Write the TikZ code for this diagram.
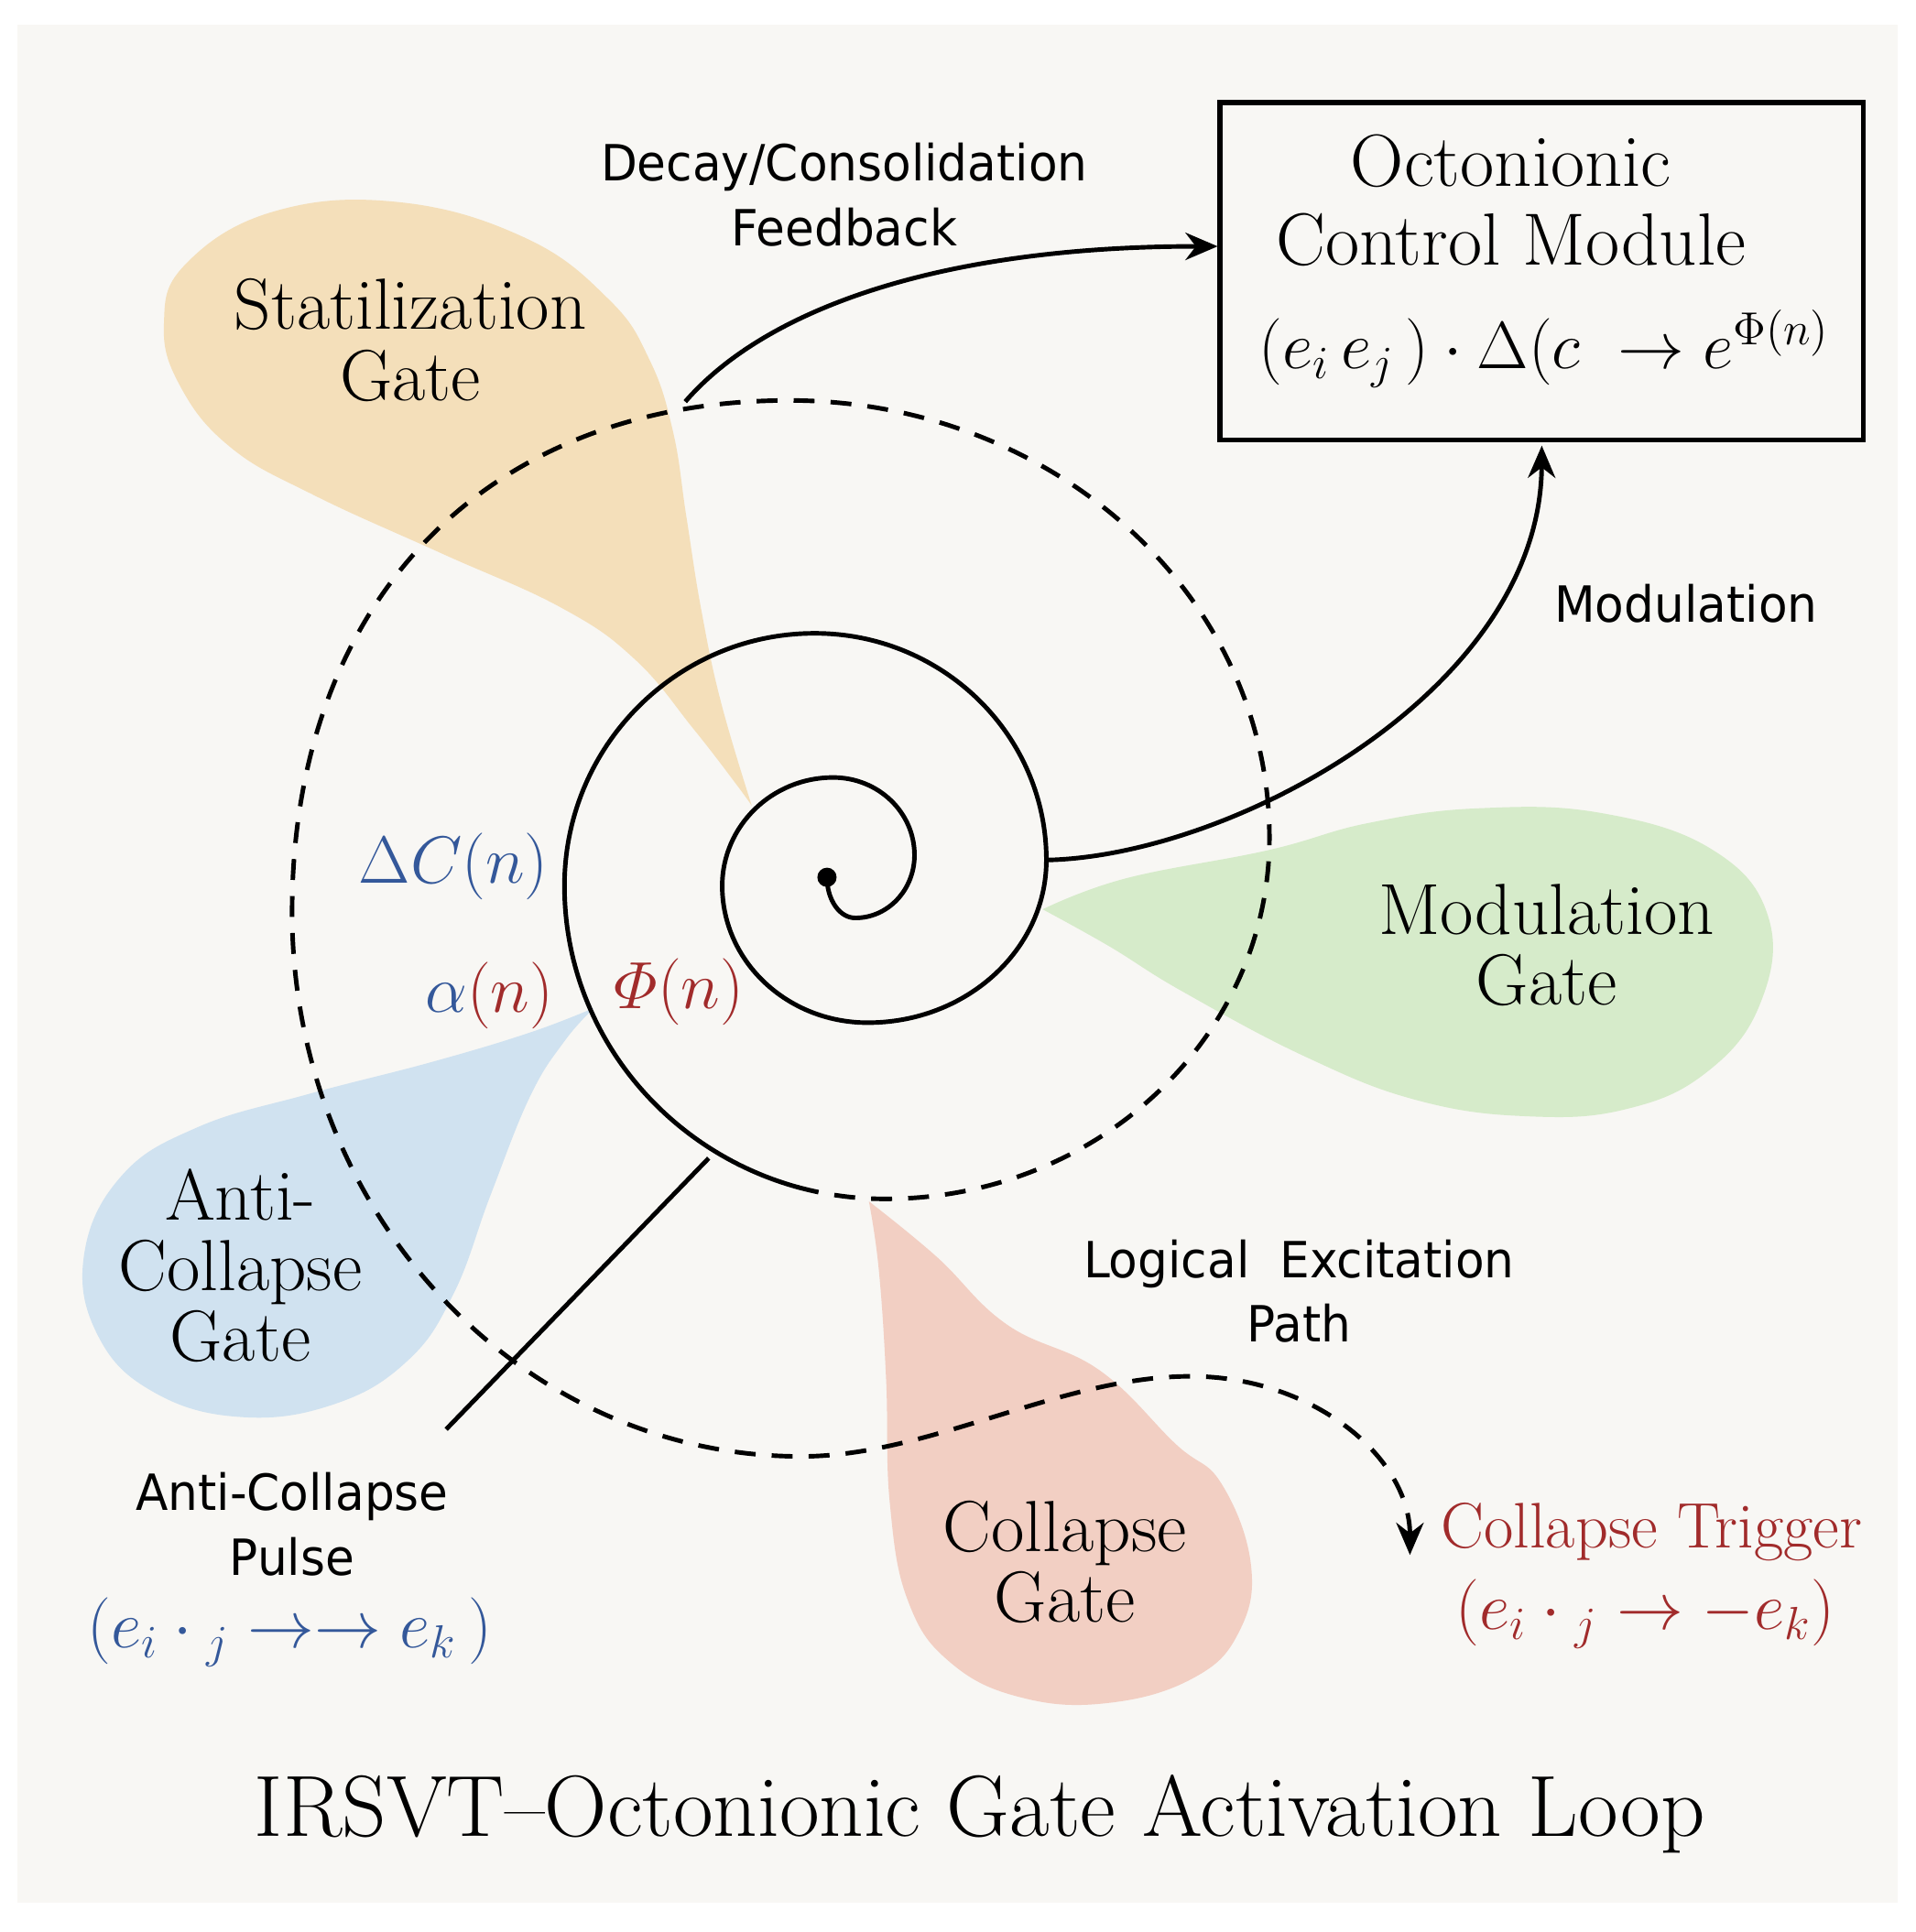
\documentclass[tikz,border=0pt]{standalone}
\usepackage{amsmath}
\usepackage{fontspec}
\newfontfamily\sidefont[FakeStretch=0.95]{DejaVu Sans}
\usetikzlibrary{arrows.meta,positioning}
\definecolor{PaperBg}{HTML}{F8F7F4}
\definecolor{StatFill}{HTML}{F4DFBA}
\definecolor{ModFill}{HTML}{D6EBCA}
\definecolor{AntiFill}{HTML}{D0E2F0}
\definecolor{ColFill}{HTML}{F2CFC3}
\definecolor{InkBlue}{HTML}{34589A}
\definecolor{InkRed}{HTML}{A12B2B}
\tikzset{
gatetext/.style={font=\fontsize{22.5}{22}\selectfont, align=center, inner sep=0pt},
sidetext/.style={font=\sidefont\fontsize{15.5}{20}\selectfont, align=center, inner sep=0pt},
mathtext/.style={font=\fontsize{21}{24}\selectfont, inner sep=0pt},
modbox/.style={draw=black, line width=1.6pt, fill=PaperBg, inner sep=0pt},
spiralline/.style={line width=1.4pt, line cap=round},
excite/.style={-{Stealth[length=10pt,width=8.5pt]}, line width=1.4pt, dash pattern=on 6.5pt off 5pt},
flow/.style={-{Stealth[length=10pt,width=8.5pt]}, line width=1.4pt},
pulseline/.style={line width=1.4pt}
}

\begin{document}
\begin{tikzpicture}[x=0.013456cm, y=-0.013456cm]
  \useasboundingbox (0,0) rectangle (1554,1568);
  \fill[white] (0,0) rectangle (1554,1568);
  \fill[PaperBg] (14,20) rectangle (1540,1544);

  \fill[StatFill] plot[smooth, tension=0.7] coordinates {(610,654) (597,636) (563,592) (515,535) (455,493) (358,449) (255,402) (187,363) (146,313) (133,263) (150,215) (221,172) (323,164) (426,193) (494,243) (527,292) (546,350) (557,420) (569,495) (585,570) (610,654)} -- cycle;
  \fill[ModFill] plot[smooth, tension=0.7] coordinates {(846,738) (913,713) (1029,690) (1110,668) (1200,656) (1300,660) (1390,690) (1435,745) (1428,815) (1385,870) (1320,900) (1240,906) (1150,893) (1060,858) (960,805) (900,768) (846,738)} -- cycle;
  \fill[AntiFill] plot[smooth, tension=0.7] coordinates {(482,818) (430,838) (350,862) (250,888) (160,915) (98,955) (68,1020) (80,1085) (125,1130) (195,1150) (270,1140) (330,1105) (368,1050) (398,970) (430,890) (458,845) (482,818)} -- cycle;
  \fill[ColFill] plot[smooth, tension=0.7] coordinates {(705,975) (760,1020) (817,1075) (892,1112) (954,1172) (991,1204) (1015,1270) (1005,1325) (968,1362) (900,1382) (830,1378) (772,1350) (737,1300) (722,1220) (719,1120) (713,1030) (705,975)} -- cycle;

  \node[modbox, minimum width=7.024cm, minimum height=3.687cm] (module) at (1251,220) {};
  \node[gatetext, font=\fontsize{23}{24.5}\selectfont] (modtitle) at (1226,163) {Octonionic\\Control Module};
  \node[mathtext] (modeq) at (1253,283) {$(e_i\,e_j\,)\cdot\Delta(c\;\rightarrow e^{\Phi(n)}$};

  \node[circle, fill=black, inner sep=0pt, minimum size=0.21cm] (core) at (671,712) {};
  \coordinate (sp-right) at (849,698);
  \coordinate (sp-cut) at (647.6,963.6);
  \draw[spiralline] (core.center) .. controls (671,730) and (681,745) .. (694,745)
    .. controls (720.5,745) and (742,722.2) .. (742,694)
    .. controls (742,659.2) and (712.5,631) .. (676,631)
    .. controls (626.3,631) and (586,670.4) .. (586,719)
    .. controls (586,780.3) and (638.8,830) .. (704,830)
    .. controls (784.1,830) and (849,770.9) .. (sp-right)
    .. controls (849,596.4) and (764.8,514) .. (661,514)
    .. controls (548.9,514) and (458,605.8) .. (458,719)
    .. controls (458,835.4) and (538.2,933.6) .. (sp-cut);

  \coordinate (trig-in) at (1144,1262);
  \draw[excite] (sp-cut) .. controls (670,969.7) and (693.6,973) .. (718,973)
    .. controls (890.3,973) and (1030,841.8) .. (1030,680)
    .. controls (1030,484) and (855.4,325) .. (640,325)
    .. controls (395,325) and (237,488) .. (237,740)
    .. controls (237,984.1) and (421.9,1182) .. (650,1182)
    .. controls (755,1182) and (860,1117) .. (966,1117)
    .. controls (1064.3,1117) and (1144,1181.9) .. (trig-in);

  \coordinate (fb-out) at (556,326);
  \coordinate (fb-in) at ([yshift=0.27cm]module.west);
  \draw[flow] (fb-out) .. controls (620,252) and (760,200) .. (fb-in);
  \draw[flow, shorten >=1pt] (sp-right) .. controls (1000,695) and (1250,560) .. (module.south);

  \coordinate (pulse-a) at (575,940);
  \coordinate (pulse-b) at (362,1160);
  \draw[pulseline] (pulse-a) -- (pulse-b);

  \node[gatetext] (statgate) at (333,276) {Statilization\\Gate};
  \node[gatetext] (modgate) at (1255,767) {Modulation\\Gate};
  \node[gatetext] (antigate) at (195,1027) {Anti-\\Collapse\\Gate};
  \node[gatetext] (colgate) at (864,1268) {Collapse\\Gate};

  \node[sidetext] (fblabel) at (685,158) {Decay/Consolidation\\Feedback};
  \node[sidetext] (modlabel) at (1368,490) {Modulation};
  \node[sidetext] (pathlabel) at (1054,1048) {Logical~ Excitation\\Path};
  \node[sidetext] (pulselabel) at (237,1237) {Anti-Collapse\\Pulse};

  \node[mathtext, font=\fontsize{21.5}{24}\selectfont, text=InkBlue] (dc) at (368,703) {$\Delta C(n)$};
  \node[mathtext, font=\fontsize{22}{24}\selectfont] (alpha) at (397,808) {{\color{InkBlue}$\alpha$}{\color{InkRed}$(n)$}};
  \node[mathtext, font=\fontsize{22}{24}\selectfont, text=InkRed] (phi) at (551,805) {$\varPhi(n)$};

  \node[mathtext, font=\fontsize{20}{24}\selectfont, text=InkBlue] (pulseeq) at (235,1325) {$(e_{i}\cdot{}_{j}\rightarrow\rightarrow e_{k}\,)$};
  \node[gatetext, font=\fontsize{20}{24}\selectfont, text=InkRed] (trigger) at (1340,1243) {Collapse Trigger};
  \node[mathtext, text=InkRed] (triggereq) at (1335,1310) {$(e_{i}\cdot{}_{j}\rightarrow -e_{k})$};

  \node[gatetext, font=\fontsize{27}{30}\selectfont] (title) at (795,1472) {IRSVT--Octonionic Gate Activation Loop};
\end{tikzpicture}
\end{document}
